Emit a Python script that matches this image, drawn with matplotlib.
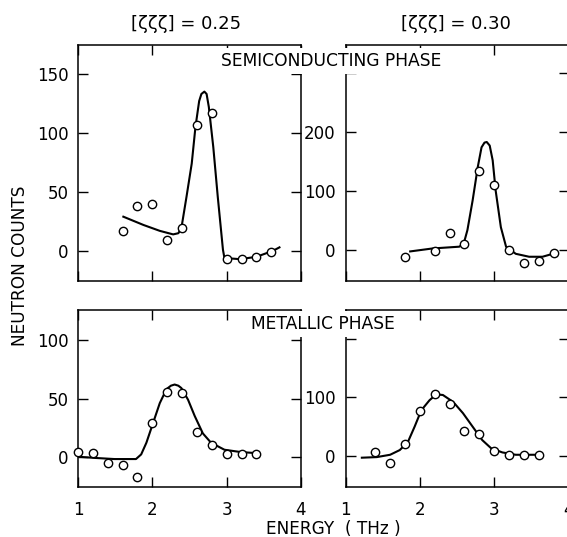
import matplotlib.pyplot as plt

plt.rcParams["font.family"] = ["DejaVu Sans"]

# semiconducting phase, [zzz] = 0.25
semi25_x = [1.6, 1.8, 2.0, 2.2, 2.4, 2.6, 2.8, 3.0, 3.2, 3.4, 3.6]
semi25_y = [17, 38, 40, 9, 19, 107, 117, -7, -7, -5, -1]
semi25_fit_x = [1.61, 1.88, 2.10, 2.28, 2.35, 2.39, 2.46, 2.53, 2.58, 2.63,
                2.66, 2.70, 2.73, 2.76, 2.82, 2.88, 2.95, 2.97, 3.18, 3.40,
                3.62, 3.71]
semi25_fit_y = [29, 22, 17, 14, 15, 19, 46, 74, 105, 127,
                133, 135, 133, 122, 88, 46, 1, -6, -7, -5,
                0, 3]

# semiconducting phase, [zzz] = 0.30
semi30_x = [1.8, 2.2, 2.4, 2.6, 2.8, 3.0, 3.2, 3.4, 3.6, 3.8]
semi30_y = [-12, -1, 29, 11, 134, 111, 0, -21, -18, -4]
semi30_fit_x = [1.87, 2.17, 2.53, 2.59, 2.64, 2.71, 2.78, 2.83, 2.87, 2.90,
                2.94, 2.98, 3.02, 3.09, 3.16, 3.29, 3.47, 3.65, 3.79]
semi30_fit_y = [-2, 3, 6, 11, 34, 84, 141, 174, 182, 183,
                177, 152, 101, 39, 6, -6, -11, -11, -6]

# metallic phase, [zzz] = 0.25
met25_x = [1.0, 1.2, 1.4, 1.6, 1.8, 2.0, 2.2, 2.4, 2.6, 2.8, 3.0, 3.2, 3.4]
met25_y = [4, 3, -5, -7, -17, 29, 56, 55, 21, 10, 2, 2, 2]
met25_fit_x = [1.0, 1.22, 1.49, 1.78, 1.85, 1.92, 2.01, 2.10, 2.19, 2.25,
               2.30, 2.35, 2.39, 2.48, 2.57, 2.68, 2.79, 2.97, 3.19, 3.42]
met25_fit_y = [0, -1, -2, -2, 2, 12, 29, 46, 58, 61,
               62, 61, 59, 49, 35, 20, 12, 6, 4, 3]

# metallic phase, [zzz] = 0.30
met30_x = [1.4, 1.6, 1.8, 2.0, 2.2, 2.4, 2.6, 2.8, 3.0, 3.2, 3.4, 3.6]
met30_y = [7, -12, 20, 77, 105, 89, 43, 38, 8, 2, 2, 2]
met30_fit_x = [1.22, 1.42, 1.60, 1.73, 1.84, 1.93, 2.02, 2.13, 2.22, 2.31,
               2.45, 2.58, 2.71, 2.84, 2.96, 3.11, 3.29, 3.63]
met30_fit_y = [-3, -2, 2, 10, 24, 50, 78, 95, 105, 104,
               92, 73, 50, 27, 13, 6, 2, 2]

x_ticks = [1, 2, 3, 4]
titles = ["[ζζζ] = 0.25", "[ζζζ] = 0.30"]

W, H = 567, 537
fig = plt.figure(figsize=(W / 100, H / 100), dpi=100)


def make_axes(left, top, right, bottom):
    return fig.add_axes([left / W, 1 - bottom / H, (right - left) / W, (bottom - top) / H])


panels = [
    # axes box in pixels, data, ylim, yticks, ytick labels, show x labels
    ((78, 45, 301, 281), semi25_x, semi25_y, semi25_fit_x, semi25_fit_y,
     (-25.5, 174.5), [0, 50, 100, 150], ["0", "50", "100", "150"], False),
    ((345.5, 45, 568.5, 281), semi30_x, semi30_y, semi30_fit_x, semi30_fit_y,
     (-52, 347), [0, 100, 200, 300], ["0", "100", "200", ""], False),
    ((78, 310, 301, 487), met25_x, met25_y, met25_fit_x, met25_fit_y,
     (-26, 126), [0, 50, 100], ["0", "50", "100"], True),
    ((345.5, 310, 568.5, 487), met30_x, met30_y, met30_fit_x, met30_fit_y,
     (-53, 249), [0, 100, 200], ["0", "100", ""], True),
]

for box, px, py, fx, fy, ylim, yt, ytl, xlab in panels:
    ax = make_axes(*box)
    ax.plot(fx, fy, color="black", linewidth=1.5, zorder=2)
    ax.plot(px, py, "o", markersize=6, markerfacecolor="white",
            markeredgecolor="black", markeredgewidth=1.0, zorder=3, clip_on=False)
    ax.set_xlim(1, 4)
    ax.set_ylim(*ylim)
    ax.set_xticks(x_ticks)
    ax.set_yticks(yt)
    ax.set_yticklabels(ytl)
    if xlab:
        ax.set_xticklabels([str(t) for t in x_ticks])
    else:
        ax.set_xticklabels([])
    ax.tick_params(direction="in", length=7, width=1, top=True, right=True,
                   labelsize=12, colors="black")
    ax.tick_params(axis="x", pad=10)
    ax.tick_params(axis="y", pad=7)
    for s in ax.spines.values():
        s.set_linewidth(1.1)

fig.text(186 / W, 1 - 24 / H, titles[0], ha="center", va="center", fontsize=13)
fig.text(456 / W, 1 - 24 / H, titles[1], ha="center", va="center", fontsize=13)

box_style = dict(facecolor="white", edgecolor="none", pad=3)
fig.text(331 / W, 1 - 61 / H, "SEMICONDUCTING PHASE", ha="center", va="center",
         fontsize=12.3, bbox=box_style, zorder=5)
fig.text(323 / W, 1 - 324 / H, "METALLIC PHASE", ha="center", va="center",
         fontsize=12.3, bbox=box_style, zorder=5)

fig.text(20 / W, 1 - 266 / H, "NEUTRON COUNTS", rotation=90, ha="center",
         va="center", fontsize=12.2)
fig.text(333 / W, 1 - 529 / H, "ENERGY  ( THz )", ha="center", va="center",
         fontsize=12.2)

fig.savefig("out.png", dpi=100)
